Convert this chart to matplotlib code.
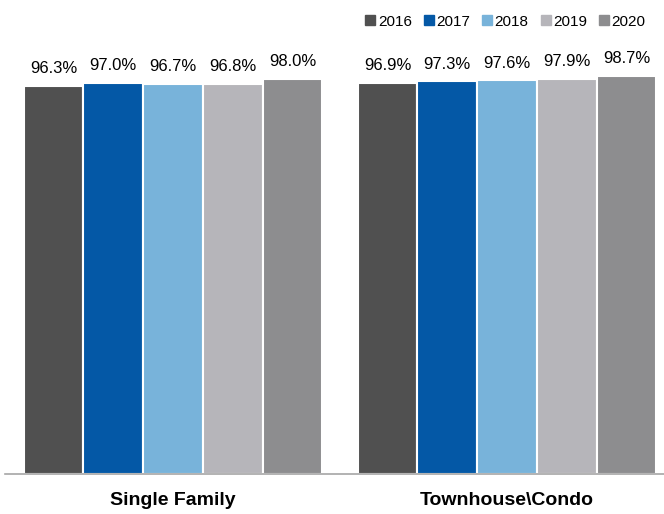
import matplotlib
matplotlib.use('Agg')
import matplotlib.pyplot as plt
from matplotlib.lines import Line2D
import numpy as np

plt.rcParams['font.family'] = ['Liberation Sans', 'DejaVu Sans']

categories = ['Single Family', 'Townhouse\\Condo']
years = ['2016', '2017', '2018', '2019', '2020']
values = {
    '2016': [96.3, 96.9],
    '2017': [97.0, 97.3],
    '2018': [96.7, 97.6],
    '2019': [96.8, 97.9],
    '2020': [98.0, 98.7],
}
colors = ['#505050', '#0458A6', '#78B3DA', '#B6B5BA', '#8D8D8F']

fig = plt.figure(figsize=(6.64, 5.14), dpi=100)
ax = fig.add_axes([5 / 664, 40 / 514, 659 / 664, 474 / 514])

x = np.arange(len(categories))
width = 0.179
for i, (yr, c) in enumerate(zip(years, colors)):
    offs = (i - 2) * width
    bars = ax.bar(x + offs, values[yr], width, color=c, edgecolor='white',
                  linewidth=1.5, label=yr)
    ax.bar_label(bars, labels=[f'{v:.1f}%' for v in values[yr]],
                 padding=7, fontsize=12)

ax.set_xlim(-0.503, 1.47)
ax.set_ylim(0, 117.5)
ax.set_yticks([])
ax.set_xticks(x)
ax.set_xticklabels(categories, fontsize=14, fontweight='bold')
ax.tick_params(axis='x', length=0, pad=13)
for s in ['top', 'right', 'left']:
    ax.spines[s].set_visible(False)
ax.spines['bottom'].set_color('#A6A6A6')
ax.spines['bottom'].set_linewidth(1.2)

handles = [Line2D([], [], marker='s', linestyle='none', markersize=7,
                  markerfacecolor=c, markeredgecolor=c) for c in colors]
fig.legend(handles, years, loc='upper right', bbox_to_anchor=(0.993, 0.998),
           ncol=5, frameon=False, fontsize=11, handlelength=0.6,
           handletextpad=0.2, columnspacing=0.8)

plt.savefig('out.png', dpi=100)
